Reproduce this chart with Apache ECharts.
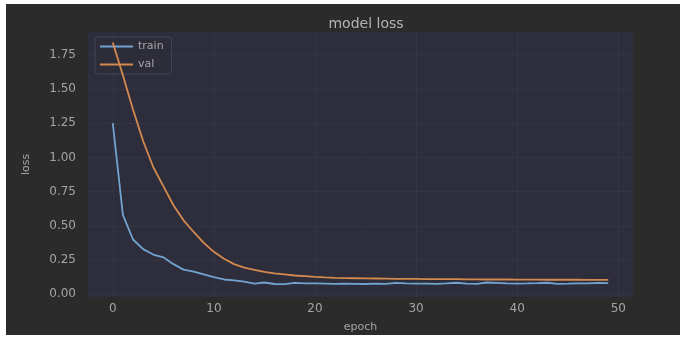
<!DOCTYPE html>
<html><head><meta charset="utf-8">
<script src="https://cdn.jsdelivr.net/npm/echarts@6/dist/echarts.min.js"></script>
<style>html,body{margin:0;padding:0;background:#ffffff;}#c{width:680px;height:338px;}</style>
</head><body><div id="c"></div>
<script>
const epochs = Array.from({length: 50}, (_, i) => i);
const trainLoss = [1.25, 0.58, 0.40, 0.33, 0.29, 0.27, 0.22, 0.18, 0.165, 0.145, 0.125, 0.108, 0.102, 0.092, 0.077, 0.086, 0.075, 0.074, 0.083, 0.079, 0.079, 0.078, 0.076, 0.077, 0.076, 0.075, 0.078, 0.076, 0.083, 0.080, 0.078, 0.077, 0.076, 0.079, 0.084, 0.077, 0.076, 0.086, 0.083, 0.080, 0.078, 0.079, 0.081, 0.084, 0.076, 0.077, 0.080, 0.079, 0.083, 0.082];
const valLoss = [1.84, 1.60, 1.35, 1.12, 0.93, 0.79, 0.65, 0.54, 0.455, 0.375, 0.31, 0.26, 0.22, 0.195, 0.178, 0.163, 0.152, 0.145, 0.137, 0.132, 0.127, 0.123, 0.12, 0.118, 0.117, 0.116, 0.115, 0.114, 0.113, 0.112, 0.112, 0.111, 0.111, 0.110, 0.110, 0.109, 0.109, 0.108, 0.108, 0.108, 0.107, 0.107, 0.107, 0.106, 0.106, 0.106, 0.106, 0.105, 0.105, 0.105];
const xTicks = [0, 10, 20, 30, 40, 50];
const yTicks = [0, 0.25, 0.5, 0.75, 1.0, 1.25, 1.5, 1.75];

const chart = echarts.init(document.getElementById('c'), null, {renderer: 'canvas'});
const textColor = '#a4a4a4';
const font = 'DejaVu Sans, Verdana, sans-serif';
chart.setOption({
  animation: false,
  backgroundColor: 'transparent',
  graphic: [{type: 'rect', z: -10, shape: {x: 6, y: 4, width: 674, height: 331}, style: {fill: '#2b2b2b'}}],
  title: {text: 'model loss', left: 361, top: 12, textAlign: 'center',
    textStyle: {color: '#b4b4b4', fontSize: 14, fontWeight: 'normal', fontFamily: font}},
  grid: {left: 88, right: 47, top: 32, bottom: 37, show: true, backgroundColor: '#2d2d3b', borderWidth: 0},
  legend: {left: 95, top: 37, orient: 'vertical', itemWidth: 33, itemHeight: 2, itemGap: 7, z: 1,
    padding: [4, 8, 4, 5], borderColor: '#444452', borderWidth: 1, borderRadius: 3,
    backgroundColor: 'rgba(45,45,59,0.6)',
    icon: 'rect',
    textStyle: {color: textColor, fontSize: 11, fontFamily: font},
    data: ['train', 'val']},
  xAxis: {type: 'value', min: -2.45, max: 51.45, name: 'epoch', nameLocation: 'middle', nameGap: 25,
    nameTextStyle: {color: textColor, fontSize: 11, fontFamily: font},
    axisLine: {show: false}, axisTick: {show: false, customValues: xTicks},
    axisLabel: {color: textColor, fontSize: 12, fontFamily: font, margin: 6, customValues: xTicks},
    splitLine: {show: true, lineStyle: {color: '#343442', width: 1}}},
  yAxis: {type: 'value', min: -0.02, max: 1.916, name: 'loss', nameLocation: 'middle', nameGap: 56,
    nameTextStyle: {color: textColor, fontSize: 11, fontFamily: font},
    axisLine: {show: false}, axisTick: {show: false, customValues: yTicks},
    axisLabel: {color: textColor, fontSize: 12, fontFamily: font, margin: 12, customValues: yTicks,
      formatter: v => v.toFixed(2)},
    splitLine: {show: true, lineStyle: {color: '#343442', width: 1}}},
  series: [
    {name: 'train', type: 'line', z: 5, showSymbol: false, data: epochs.map((e, i) => [e, trainLoss[i]]),
      lineStyle: {color: '#72a3cf', width: 1.8}, itemStyle: {color: '#72a3cf'}},
    {name: 'val', type: 'line', z: 5, showSymbol: false, data: epochs.map((e, i) => [e, valLoss[i]]),
      lineStyle: {color: '#d48a4f', width: 1.8}, itemStyle: {color: '#d48a4f'}}
  ]
});
</script></body></html>
